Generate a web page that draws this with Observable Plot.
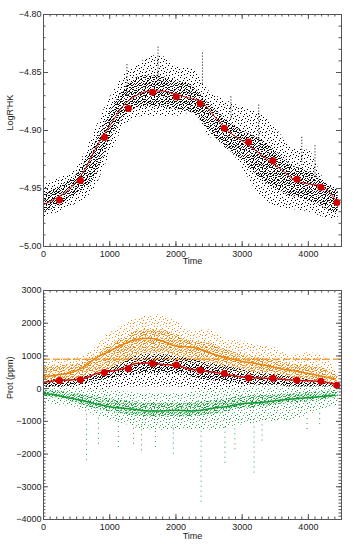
<!DOCTYPE html>
<html><head><meta charset="utf-8">
<script src="https://cdn.jsdelivr.net/npm/d3@7"></script>
<script src="https://cdn.jsdelivr.net/npm/@observablehq/plot@0.6"></script>
<style>
body{margin:0;background:#fff;}
#c{width:354px;height:550px;position:relative;overflow:hidden}
#c svg{display:block}
</style></head><body>
<div id="c"></div>
<script>
// ---------------- data ----------------
const xTicks = [0, 1000, 2000, 3000, 4000];
const yTicksTop = [-5.00, -4.95, -4.90, -4.85, -4.80];
const yTicksBottom = [-4000, -3000, -2000, -1000, 0, 1000, 2000, 3000];

// bin times for the scatter clouds
const binT = [0,250,500,750,1000,1250,1500,1750,2000,2250,2500,2750,3000,3250,3500,3750,4000,4250,4450];

// top panel black cloud (LogR'HK)
const topOuterHi = [-4.945,-4.941,-4.932,-4.903,-4.872,-4.850,-4.840,-4.835,-4.845,-4.847,-4.866,-4.874,-4.880,-4.885,-4.897,-4.915,-4.917,-4.943,-4.949];
const topOuterLo = [-4.975,-4.970,-4.963,-4.952,-4.922,-4.895,-4.888,-4.888,-4.888,-4.885,-4.905,-4.912,-4.932,-4.955,-4.965,-4.968,-4.970,-4.975,-4.977];
const topCoreHi  = [-4.955,-4.948,-4.938,-4.915,-4.885,-4.862,-4.853,-4.853,-4.857,-4.862,-4.877,-4.890,-4.900,-4.907,-4.917,-4.930,-4.935,-4.945,-4.952];
const topCoreLo  = [-4.970,-4.965,-4.955,-4.943,-4.910,-4.886,-4.880,-4.880,-4.882,-4.885,-4.900,-4.915,-4.925,-4.940,-4.950,-4.957,-4.960,-4.967,-4.972];
const topStreakT  = [1260, 1730, 2400, 2830, 3250, 3900, 4100];
const topStreakHi = [-4.842, -4.828, -4.833, -4.870, -4.878, -4.905, -4.912];
const topStreakLo = [-4.870, -4.860, -4.860, -4.890, -4.910, -4.930, -4.940];

// smoothed curves
const lineT   = [0,200,400,600,800,1000,1200,1400,1600,1800,2000,2200,2400,2600,2800,3000,3200,3400,3600,3800,4000,4200,4400];
const topLine = [-4.964,-4.958,-4.950,-4.936,-4.914,-4.896,-4.879,-4.870,-4.866,-4.866,-4.869,-4.872,-4.876,-4.889,-4.901,-4.909,-4.917,-4.926,-4.934,-4.943,-4.946,-4.948,-4.959];
const redLine    = [190,250,265,300,460,530,600,770,782,740,720,600,550,490,420,355,330,310,290,255,240,222,140];
const orangeLine = [355,420,480,650,950,1150,1350,1500,1540,1450,1300,1280,1180,1030,930,830,770,690,600,540,460,380,300];
const greenLine  = [-150,-200,-290,-370,-470,-550,-600,-640,-684,-680,-660,-680,-650,-585,-540,-460,-430,-400,-350,-310,-280,-240,-205];

// binned means (red dots)
const dotT      = [241,558,920,1282,1648,2006,2368,2730,3097,3464,3826,4188,4430];
const dotTop    = [-4.960,-4.943,-4.906,-4.881,-4.867,-4.871,-4.877,-4.898,-4.910,-4.926,-4.942,-4.949,-4.962];
const dotBottom = [250,275,490,610,770,720,560,460,325,315,255,225,105];

// bottom panel clouds (ppm)
const orangeOuterHi = [850,900,950,1200,1700,2000,2200,2250,2050,1750,1800,1500,1450,1300,1250,1000,1100,950,450];
const orangeOuterLo = [150,150,200,300,450,650,800,850,800,750,650,550,450,350,300,200,150,100,30];
const orangeCoreHi  = [650,700,750,950,1300,1600,1800,1800,1650,1450,1400,1200,1050,950,850,750,700,600,350];
const orangeCoreLo  = [250,280,320,450,600,850,1050,1100,1000,900,800,700,600,500,450,350,280,230,120];
const blackOuterHi = [450,500,600,800,1100,1250,1350,1400,1350,1250,1100,1000,900,800,700,600,550,450,250];
const blackOuterLo = [-150,-150,-100,-50,0,50,50,50,50,0,-50,-50,-50,-50,-50,-50,-50,-50,0];
const blackCoreHi  = [300,350,400,600,800,950,1050,1050,1000,900,800,700,600,500,450,400,350,300,180];
const blackCoreLo  = [50,50,100,200,300,400,450,450,450,350,250,200,150,100,100,50,50,50,50];
const greenOuterHi = [0,40,20,-20,-50,-100,-150,-150,-150,-100,-50,0,50,100,100,100,100,100,80];
const greenOuterLo = [-450,-500,-600,-800,-950,-1100,-1250,-1270,-1270,-1250,-1270,-1200,-1100,-1050,-1000,-950,-800,-600,-500];
const greenCoreHi  = [-50,-80,-150,-250,-300,-380,-430,-450,-450,-420,-380,-320,-250,-220,-200,-150,-120,-80,-50];
const greenCoreLo  = [-250,-300,-450,-600,-700,-800,-850,-870,-870,-850,-800,-720,-620,-560,-500,-450,-400,-350,-250];
const greenStreakT   = [650,830,1130,1360,1480,1690,1960,2380,2740,2890,3180,3300,3980,4170];
const greenStreakTop = [-700,-900,-1000,-1100,-1100,-1200,-1200,-1200,-1150,-1100,-1050,-1000,-800,-600];
const greenStreakLo  = [-2190,-1700,-1800,-1700,-1900,-1800,-2000,-3470,-2280,-1870,-2580,-1600,-1250,-1100];
const dashedLevel = [900];

// ---------------- speckle patterns (styling only) ----------------
const sparseCoords = [[1,0],[7,1],[10,3],[4,2],[0,5],[6,5],[9,7],[3,8],[11,9],[5,10],[8,11],[2,11],[10,0],[4,6],[7,8],[1,3]];
const denseCoords = [[0,0],[3,0],[6,1],[8,0],[1,2],[4,2],[7,3],[2,4],[5,4],[0,5],[8,5],[3,6],[6,6],[1,7],[4,8],[7,8],[5,7],[2,1],[0,3],[8,2],[3,3],[6,4],[1,5],[5,2]];
const patternSpecs = [
  ["ks", 12, sparseCoords, ["#000"]],
  ["kd", 9, denseCoords, ["#111"]],
  ["os", 12, sparseCoords, ["#ee8510", "#f29a2a"]],
  ["od", 9, denseCoords, ["#e9820c", "#ee8e1c", "#f29f38"]],
  ["gs", 12, sparseCoords, ["#1a9a3a", "#52b466"]],
  ["gd", 9, denseCoords, ["#13983a", "#30a84e", "#6cc07e"]]
];
function addDefs(svg, prefix) {
  const ns = "http://www.w3.org/2000/svg";
  const defs = document.createElementNS(ns, "defs");
  for (const [id, size, coords, colors] of patternSpecs) {
    const p = document.createElementNS(ns, "pattern");
    p.setAttribute("id", prefix + id);
    p.setAttribute("patternUnits", "userSpaceOnUse");
    p.setAttribute("width", size); p.setAttribute("height", size);
    coords.forEach(([x, y], i) => {
      const r = document.createElementNS(ns, "rect");
      r.setAttribute("x", x); r.setAttribute("y", y);
      r.setAttribute("width", 1); r.setAttribute("height", 1);
      r.setAttribute("fill", colors[i % colors.length]);
      p.appendChild(r);
    });
    defs.appendChild(p);
  }
  svg.insertBefore(defs, svg.firstChild);
}

// ---------------- helpers ----------------
const band = (lo, hi) => binT.map((t, i) => ({t, lo: lo[i], hi: hi[i]}));
const W = 354, H = 275, ML = 43, MR = 13;
const frameW = W - ML - MR;
const axisColor = "#555";
const fontFamily = "'Liberation Sans', Arial, sans-serif";
const minus = (s) => s.replace("-", "\u2212");

function ticksMarks(xMinor, xMajor, yMinor, yMajor, frameH) {
  const mk = [];
  const minorL = 2.5, majorL = 5;
  mk.push(Plot.ruleX(xMinor, {x: d => d, insetTop: frameH - minorL, stroke: axisColor, strokeWidth: 1}));
  mk.push(Plot.ruleX(xMinor, {x: d => d, insetBottom: frameH - minorL, stroke: axisColor, strokeWidth: 1}));
  mk.push(Plot.ruleX(xMajor, {x: d => d, insetTop: frameH - majorL, stroke: axisColor, strokeWidth: 1}));
  mk.push(Plot.ruleX(xMajor, {x: d => d, insetBottom: frameH - majorL, stroke: axisColor, strokeWidth: 1}));
  mk.push(Plot.ruleY(yMinor, {y: d => d, insetRight: frameW - minorL, stroke: axisColor, strokeWidth: 1}));
  mk.push(Plot.ruleY(yMinor, {y: d => d, insetLeft: frameW - minorL, stroke: axisColor, strokeWidth: 1}));
  mk.push(Plot.ruleY(yMajor, {y: d => d, insetRight: frameW - majorL, stroke: axisColor, strokeWidth: 1}));
  mk.push(Plot.ruleY(yMajor, {y: d => d, insetLeft: frameW - majorL, stroke: axisColor, strokeWidth: 1}));
  return mk;
}

const xMinor = d3.range(0, 4501, 100);
const cloud = (lo, hi, pat) => Plot.areaY(band(lo, hi), {x: "t", y1: "lo", y2: "hi", fill: `url(#${pat})`, curve: "monotone-x"});
const tint = (lo, hi, color, op) => Plot.areaY(band(lo, hi), {x: "t", y1: "lo", y2: "hi", fill: color, fillOpacity: op, curve: "monotone-x"});

// ---------------- top panel ----------------
const mtT = 14, mbT = 29, frameHT = H - mtT - mbT;
const topPlot = Plot.plot({
  width: W, height: H,
  marginLeft: ML, marginRight: MR, marginTop: mtT, marginBottom: mbT,
  style: {background: "#fff", color: "#222", fontSize: "9px", fontFamily},
  x: {domain: [0, 4500], axis: null},
  y: {domain: [-5.0, -4.8], axis: null},
  marks: [
    cloud(topOuterLo, topOuterHi, "t-ks"),
    cloud(topCoreLo, topCoreHi, "t-kd"),
    Plot.ruleX(topStreakT.map((t, i) => ({t, lo: topStreakLo[i], hi: topStreakHi[i]})), {x: "t", y1: "lo", y2: "hi", stroke: "#000", strokeWidth: 1, strokeDasharray: "1,2"}),
    Plot.line(lineT.map((t, i) => ({t, v: topLine[i]})), {x: "t", y: "v", stroke: "#d01010", strokeWidth: 1, curve: "monotone-x"}),
    Plot.dot(dotT.map((t, i) => ({t, v: dotTop[i]})), {x: "t", y: "v", r: 3.5, fill: "#d40000", stroke: "none"}),
    Plot.frame({stroke: axisColor}),
    ...ticksMarks(xMinor, xTicks, d3.range(0, 21).map(i => -5 + i * 0.01), yTicksTop, frameHT),
    Plot.axisX(xTicks, {tickSize: 0, tickPadding: 4, label: null, tickFormat: d => String(d)}),
    Plot.axisY(yTicksTop, {tickSize: 0, tickPadding: 2, label: null, tickFormat: d => minus(d.toFixed(2))}),
    Plot.text(["Time"], {frameAnchor: "bottom", dy: 17, fontSize: 9}),
    Plot.text(["LogR'HK"], {frameAnchor: "left", dx: -33, rotate: -90, fontSize: 9})
  ]
});
addDefs(topPlot, "t-");

// ---------------- bottom panel ----------------
const mtB = 15, mbB = 31, frameHB = H - mtB - mbB;
const bottomPlot = Plot.plot({
  width: W, height: H,
  marginLeft: ML, marginRight: MR, marginTop: mtB, marginBottom: mbB,
  style: {background: "#fff", color: "#222", fontSize: "9px", fontFamily},
  x: {domain: [0, 4500], axis: null},
  y: {domain: [-4000, 3000], axis: null},
  marks: [
    Plot.ruleX(greenStreakT.map((t, i) => ({t, top: greenStreakTop[i], lo: greenStreakLo[i]})), {x: "t", y1: "lo", y2: "top", stroke: "#2aa04a", strokeWidth: 1, strokeDasharray: "1,4"}),
    tint(greenCoreLo, greenCoreHi, "#2aa04a", 0.05),
    Plot.ruleY(dashedLevel, {y: d => d, stroke: "#f5a445", strokeWidth: 1.5, strokeDasharray: "7,3"}),
    cloud(blackOuterLo, blackOuterHi, "b-ks"),
    cloud(blackCoreLo, blackCoreHi, "b-kd"),
    cloud(orangeOuterLo, orangeOuterHi, "b-os"),
    cloud(orangeCoreLo, orangeCoreHi, "b-od"),
    cloud(orangeCoreLo, orangeCoreHi, "b-os"),
    cloud(greenOuterLo, greenOuterHi, "b-gs"),
    cloud(greenCoreLo, greenCoreHi, "b-gd"),
    Plot.line(lineT.map((t, i) => ({t, v: orangeLine[i]})), {x: "t", y: "v", stroke: "#e8820a", strokeWidth: 1.5, curve: "monotone-x"}),
    Plot.line(lineT.map((t, i) => ({t, v: greenLine[i]})), {x: "t", y: "v", stroke: "#0f9a35", strokeWidth: 1.5, curve: "monotone-x"}),
    Plot.line(lineT.map((t, i) => ({t, v: redLine[i]})), {x: "t", y: "v", stroke: "#d01010", strokeWidth: 1.5, curve: "monotone-x"}),
    Plot.dot(dotT.map((t, i) => ({t, v: dotBottom[i]})), {x: "t", y: "v", r: 3.5, fill: "#d40000", stroke: "none"}),
    Plot.frame({stroke: axisColor}),
    ...ticksMarks(xMinor, xTicks, d3.range(-4000, 3001, 100), yTicksBottom, frameHB),
    Plot.axisX(xTicks, {tickSize: 0, tickPadding: 4, label: null, tickFormat: d => String(d)}),
    Plot.axisY(yTicksBottom, {tickSize: 0, tickPadding: 2, label: null, tickFormat: d => minus(String(d))}),
    Plot.text(["Time"], {frameAnchor: "bottom", dy: 19, fontSize: 9}),
    Plot.text(["Prot (ppm)"], {frameAnchor: "left", dx: -33, dy: -6, rotate: -90, fontSize: 9})
  ]
});
addDefs(bottomPlot, "b-");

document.getElementById("c").append(topPlot, bottomPlot);
</script>
</body></html>
